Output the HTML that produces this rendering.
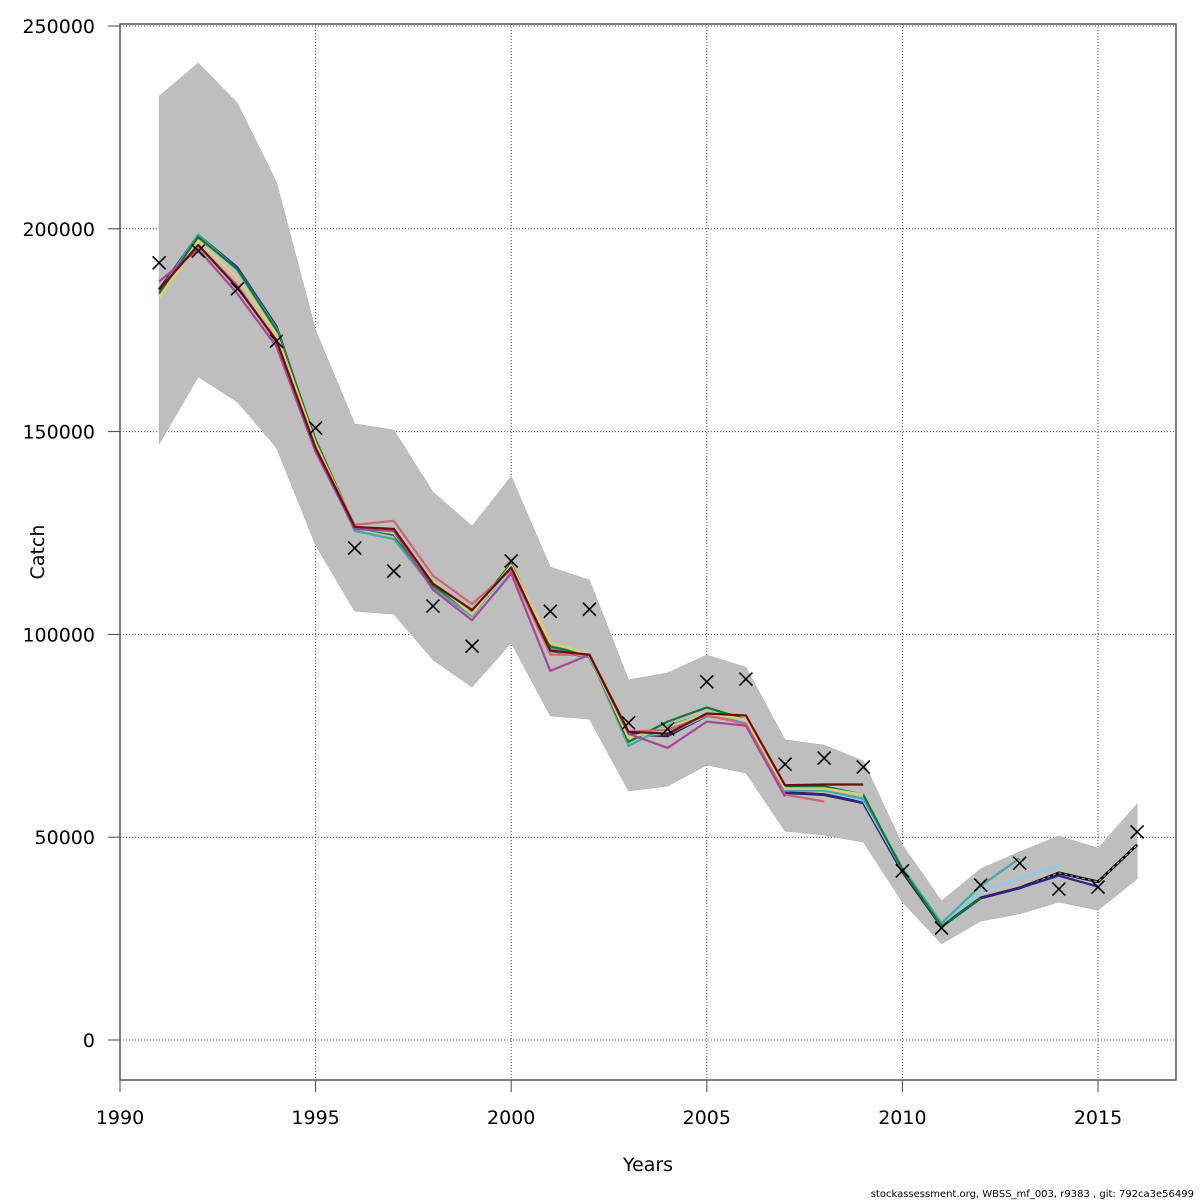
<!DOCTYPE html>
<html><head><meta charset="utf-8"><style>
html,body{margin:0;padding:0;background:#fff;}
svg{display:block;font-family:"DejaVu Sans","Liberation Sans",sans-serif;}
</style></head><body>
<svg id="chart" width="1200" height="1200" viewBox="0 0 1200 1200">
<g id="grid"></g>
<g id="band"></g>
<g id="lines"></g>
<g id="obs"></g>
<g id="axes"></g>
<text x="44" y="552" font-size="19" text-anchor="middle" transform="rotate(-90 44 552)">Catch</text>
<text x="648" y="1171" font-size="19" text-anchor="middle">Years</text>
<text x="1194" y="1197" font-size="10" text-anchor="end">stockassessment.org, WBSS_mf_003, r9383 , git: 792ca3e56499</text>
</svg>
<script>
const years=[1991,1992,1993,1994,1995,1996,1997,1998,1999,2000,2001,2002,2003,2004,2005,2006,2007,2008,2009,2010,2011,2012,2013,2014,2015,2016];
const upper=[232700,240900,231000,211500,175000,151900,150400,135100,126700,139000,116600,113400,88800,90500,94900,91900,74000,72700,68800,48100,34300,42200,46400,50300,47300,58200];
const lower=[146900,163500,157300,146000,122000,105700,105000,93700,87000,97900,79900,79100,61400,62600,67800,65800,51500,50500,48800,34000,23700,29300,31100,34000,32000,39700];
const observed=[191600,194500,185200,172300,150900,121300,115600,107000,97100,118100,105700,106200,78200,76700,88300,89000,68000,69500,67300,41700,27600,38200,43600,37200,37700,51300];
const baseFit=[185000,198000,190000,175500,147000,126000,125000,111500,105000,116000,96000,94500,75500,75000,80000,78500,61000,60500,58500,41500,28000,35000,37500,41200,39000,48100];
const peelMagenta=[187000,195000,184000,171000,145000,126000,125500,111000,103500,115000,91000,95000,75500,72000,78500,77500,60000];
const peelPink=[185000,196000,186000,172000,146000,127000,128000,114500,107500,116000,95000,95000,76000,76500,80000,78000,60500,58800];
const peelBrown=[185000,196000,185500,172500,146000,126500,126000,112500,106000,116500,96000,95000,76000,75500,80500,80000,62800,63000,63000];
const peelYellow=[183000,197000,188000,174000,147000,126500,125000,113000,105000,117000,98000,95000,74500,77000,80500,79000,62000,62000,60500];
const peelGreen=[184000,198000,190000,175000,148000,126500,124500,112000,105500,117500,97000,95000,73500,78500,82000,79000,62500,62500,60500,42000,28000,35000];
const peelTeal=[184500,198500,190000,175500,147500,125500,123500,111500,104500,117000,96500,95000,72500,77500,80500,78000,61500,61500,59500,42500,28800,38000,44800];
const peelLightBlue=[184000,198000,189500,175000,147000,126000,124500,111500,104500,116000,96000,94500,75000,75500,80000,78500,61500,61500,59000,42000,28500,36500,40000,43200];
const peelDarkBlue=[185000,198500,190500,176000,147500,126000,125000,111500,105000,116000,96000,94500,75500,75000,80000,78500,61000,60500,58500,41500,28000,35000,37500,40500,37800];
const xTicks=[1990,1995,2000,2005,2010,2015];
const yTicks=[0,50000,100000,150000,200000,250000];

const NS='http://www.w3.org/2000/svg';
const X0=120,X1=1176,Y0=24,Y1=1080;
function sx(v){return 120+(v-1990)*39.12;}
function sy(v){return 1040-v*202.8/50000;}
function mk(tag,parent,attrs){const e=document.createElementNS(NS,tag);for(const k in attrs)e.setAttribute(k,attrs[k]);parent.appendChild(e);return e;}
const grid=document.getElementById('grid'),band=document.getElementById('band'),lines=document.getElementById('lines'),obs=document.getElementById('obs'),axes=document.getElementById('axes');

xTicks.forEach(t=>{
  const l=mk('line',grid,{x1:sx(t),x2:sx(t),y1:Y0,y2:Y1,stroke:'#444','stroke-width':1,'stroke-dasharray':'1,2'});
  
  
  const tk=mk('line',axes,{x1:sx(t),x2:sx(t),y1:Y1,y2:Y1+12,stroke:'#444','stroke-width':1});
  
  
  const tx=mk('text',axes,{x:sx(t),y:1124,'font-size':19,'text-anchor':'middle'});
  tx.textContent=t;
  
  
});
yTicks.forEach(t=>{
  const l=mk('line',grid,{x1:X0,x2:X1,y1:sy(t),y2:sy(t),stroke:'#444','stroke-width':1,'stroke-dasharray':'1,2'});
  
  
  const tk=mk('line',axes,{x1:X0-12,x2:X0,y1:sy(t),y2:sy(t),stroke:'#444','stroke-width':1});
  
  
  const tx=mk('text',axes,{x:95,y:sy(t)+7,'font-size':19,'text-anchor':'end'});
  tx.textContent=t;
  
  
});
const box=mk('rect',axes,{x:X0,y:Y0,width:X1-X0,height:Y1-Y0,fill:'none',stroke:'#555','stroke-width':1.5});



let d='';
years.forEach((y,i)=>{d+=(i?'L':'M')+sx(y)+','+sy(upper[i]);});
for(let i=years.length-1;i>=0;i--)d+='L'+sx(years[i])+','+sy(lower[i]);
const poly=mk('path',band,{d:d+'Z',fill:'#bebebe',stroke:'#aaa','stroke-width':0.5});



function drawLine(vals,color,name,w,dash){
  const pts=vals.map((v,i)=>sx(years[i])+','+sy(v)).join(' ');
  const p=mk('polyline',lines,{points:pts,fill:'none',stroke:color,'stroke-width':w||2.2,'stroke-linejoin':'round'});
  if(dash)p.setAttribute('stroke-dasharray',dash);
  
  
}
drawLine(baseFit,'#000','base-fit-line',2.8);
drawLine(baseFit,'#999','base-fit-dash',1.2,'3,3');
drawLine(peelDarkBlue,'#332288','peel-2015-line');
drawLine(peelLightBlue,'#88ccee','peel-2014-line');
drawLine(peelTeal,'#44aa99','peel-2013-line');
drawLine(peelGreen,'#117733','peel-2012-line');
drawLine(peelYellow,'#ddcc77','peel-2009a-line',2.6);
drawLine(peelPink,'#cc6677','peel-2008-line');
drawLine(peelMagenta,'#aa4499','peel-2007-line');
drawLine(peelBrown,'#661100','peel-2009b-line');

years.forEach((y,i)=>{
  const cx=sx(y),cy=sy(observed[i]),r=6.5;
  const g=mk('path',obs,{d:`M${cx-r},${cy-r}L${cx+r},${cy+r}M${cx-r},${cy+r}L${cx+r},${cy-r}`,stroke:'#000','stroke-width':1.6});
  
  
});
</script>
</body></html>
